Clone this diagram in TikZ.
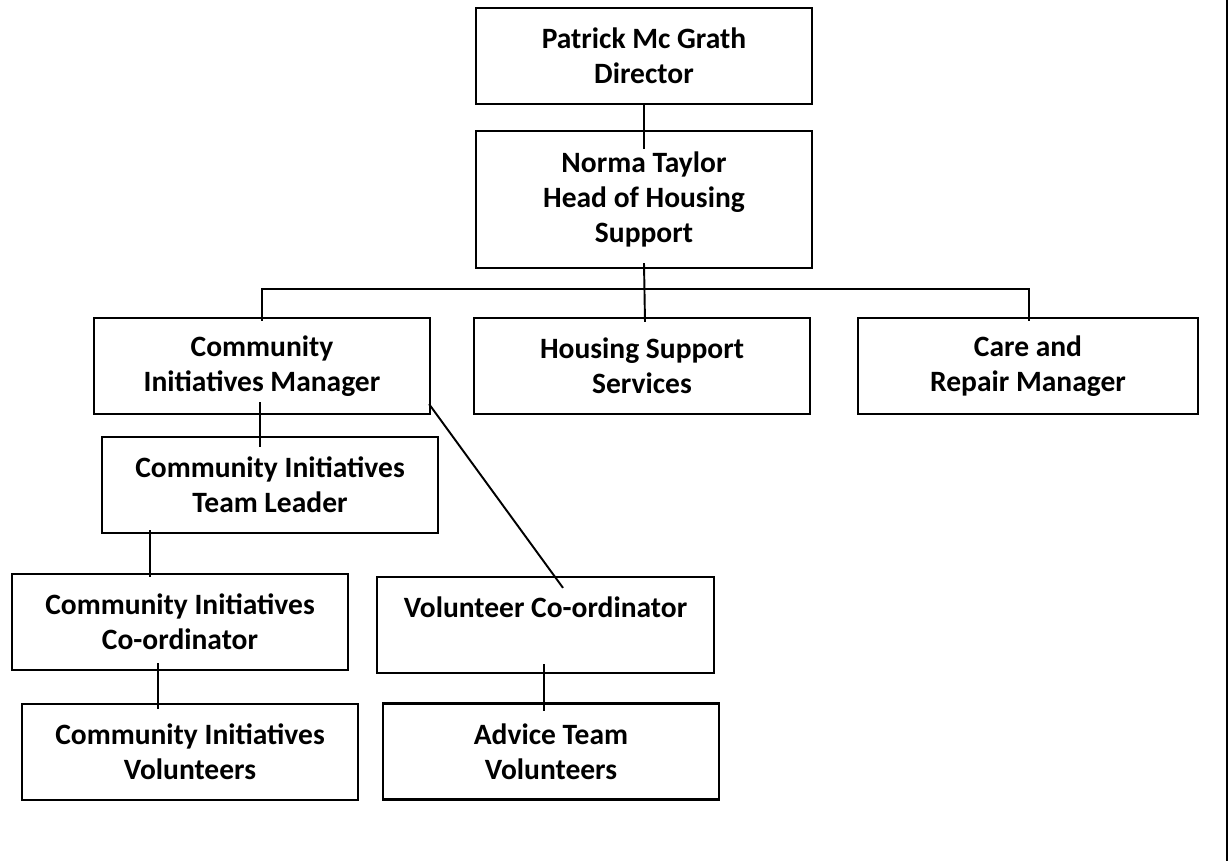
\documentclass[tikz,border=0pt]{standalone}
\usepackage{fontspec}
\setmainfont{Carlito}
\usepackage{tikz}
\usetikzlibrary{positioning, calc}

\begin{document}
\begin{tikzpicture}[x=0.02cm, y=-0.02cm,
    post/.style={draw, line width=1.3pt, fill=white, align=center, inner sep=0pt,
      minimum width=6.72cm, minimum height=1.92cm,
      font=\fontsize{16.8}{19.9}\selectfont\bfseries},
    link/.style={line width=1.1pt}]
    \useasboundingbox (0,0) rectangle (1228,861);
    % Top of the tree
    \node[post] (director) at (644,56) {Patrick Mc Grath\\Director};
    \node[post, minimum height=2.74cm] (head) at (644,199.5) {Norma Taylor\\Head of Housing\\Support};
    % Managers
    \node[post] (cim) at (262,366) {Community\\Initiatives Manager};
    \node[post] (hss) at (642,366) {Housing Support\\Services};
    \node[post, minimum width=6.8cm] (care) at (1028,366) {Care and\\Repair Manager};
    % Community initiatives branch
    \node[post] (citl) at (270,485) {Community Initiatives\\Team Leader};
    \node[post] (cic) at (180,622) {Community Initiatives\\Co-ordinator};
    \node[post] (civ) at (190,752) {Community Initiatives\\Volunteers};
    % Volunteer branch
    \node[post, minimum width=6.74cm] (vc) at (545.5,625) {Volunteer Co-ordinator\\\mbox{}};
    \node[post] (atv) at (551,751.5) {Advice Team\\Volunteers};
    % Connectors
    \coordinate (split) at (head.south |- 0,289);
    \draw[link] (director.south) -- ($(head.north)+(0,19)$);
    \draw[link] ($(head.south)+(0,-6)$) -- ($(hss.north)+(3,5)$);
    \draw[link] ($(cim.north)+(0,4)$) |- (split) -| ($(care.north)+(1,4)$);
    \draw[link] ($(cim.south)+(-2,-13)$) -- ($(citl.north)+(-10,11)$);
    \draw[link] ($(cim.south east)+(-2,-11)$) -- ($(vc.north)+(17.5,12)$);
    \draw[link] ($(citl.south)+(-120,-4)$) -- ($(cic.north)+(-30,4)$);
    \draw[link] ($(cic.south)+(-22,-8)$) -- ($(civ.north)+(-32,6)$);
    \draw[link] ($(vc.south)+(-1.5,-10)$) -- ($(atv.north)+(-7,9)$);
    % Page edge on the right
    \draw[line width=1.6pt] (1227,0) -- (1227,861);
  \end{tikzpicture}
\end{document}
